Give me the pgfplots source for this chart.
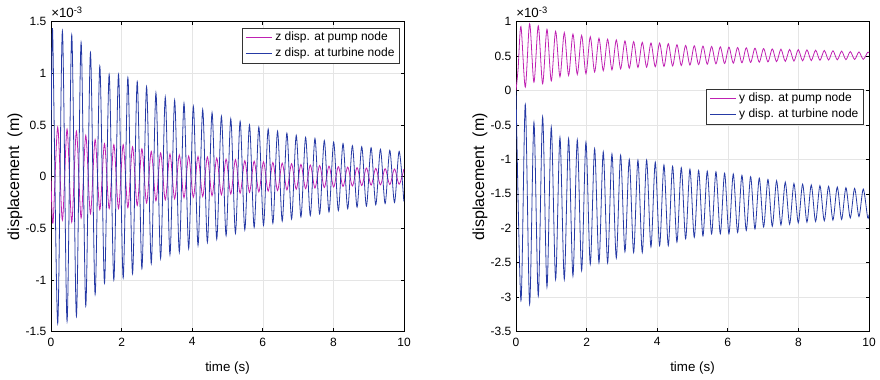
\documentclass[border=0pt]{standalone}
\usepackage{fontspec}
\setmainfont{Liberation Sans}
\usepackage{pgfplots}
\pgfplotsset{compat=1.18}
\definecolor{mag}{RGB}{191,33,178}
\definecolor{blu}{RGB}{38,58,165}
\pgfplotsset{
  mystyle/.style={
    scale only axis, width=264.75pt, height=232.5pt,
    xmin=0, xmax=10, xtick={0,2,4,6,8,10},
    grid=major, grid style={black!10, line width=0.4pt},
    axis line style={black, line width=0.5pt},
    tick style={black, line width=0.5pt},
    major tick length=2.5pt,
    /pgf/number format/assume math mode=true,
    ticklabel style={font=\fontsize{9}{10}\selectfont},
    xticklabel style={yshift=-1pt},
    xlabel={time (s)}, ylabel={displacement\ \ (m)},
    every axis x label/.style={at={(rel axis cs:0.5,0)}, anchor=center, yshift=-27pt, font=\fontsize{10}{12}\selectfont},
    every axis y label/.style={at={(axis description cs:-0.102,0.5)}, rotate=90, anchor=center, font=\fontsize{12}{14}\selectfont},
    scaled ticks=false,
    legend style={draw=black!80, line width=0.5pt, font=\fontsize{9}{10.5}\selectfont, inner xsep=2pt, inner ysep=1pt, cells={anchor=west}, fill=white},
    legend image code/.code={\draw[#1] (0cm,0cm) -- (0.68cm,0cm);},
    every axis plot/.append style={line width=0.6pt, smooth},
  }
}
\begin{document}
\begin{tikzpicture}
\path[use as bounding box] (0,0) rectangle (660pt,284.25pt);
\begin{axis}[mystyle, name=L, at={(38.25pt,35.5pt)}, anchor=south west,
  ymin=-1.5, ymax=1.5, ytick={-1.5,-1,-0.5,0,0.5,1,1.5},
  legend style={at={(rel axis cs:0.989,0.98)}, anchor=north east}]
\addlegendimage{draw=mag, line width=1.3pt}
\addlegendentry{z disp. at pump node}
\addlegendimage{draw=blu, line width=1.3pt}
\addlegendentry{z disp. at turbine node}
\addplot[mag, forget plot] coordinates {
(0,0) (0.0575,-0.45) (0.19,0.48) (0.3225,-0.42) (0.455,0.46) (0.5875,-0.44)
(0.72,0.44) (0.8525,-0.40) (0.985,0.40) (1.1175,-0.36) (1.25,0.36) (1.3825,-0.32)
(1.515,0.32) (1.6475,-0.31) (1.78,0.31) (1.9125,-0.31) (2.045,0.31) (2.1775,-0.30)
(2.31,0.29) (2.4425,-0.28) (2.575,0.27) (2.7075,-0.255) (2.84,0.245) (2.9725,-0.235)
(3.105,0.23) (3.2375,-0.225) (3.37,0.22) (3.5025,-0.215) (3.635,0.21) (3.7675,-0.205)
(3.90,0.20) (4.0325,-0.198) (4.165,0.195) (4.2975,-0.192) (4.43,0.19) (4.5625,-0.185)
(4.695,0.18) (4.8275,-0.175) (4.96,0.17) (5.0925,-0.168) (5.225,0.165) (5.3575,-0.16)
(5.49,0.155) (5.6225,-0.152) (5.755,0.15) (5.8875,-0.147) (6.02,0.144) (6.1525,-0.14)
(6.285,0.137) (6.4175,-0.134) (6.55,0.131) (6.6825,-0.128) (6.815,0.125) (6.9475,-0.122)
(7.08,0.119) (7.2125,-0.116) (7.345,0.113) (7.4775,-0.11) (7.61,0.108) (7.7425,-0.105)
(7.875,0.102) (8.0075,-0.10) (8.14,0.097) (8.2725,-0.095) (8.405,0.093) (8.5375,-0.09)
(8.67,0.088) (8.8025,-0.086) (8.935,0.084) (9.0675,-0.082) (9.20,0.08) (9.3325,-0.079)
(9.465,0.077) (9.5975,-0.076) (9.73,0.074) (9.8625,-0.073) (9.995,0.072)
};
\addplot[blu, forget plot] coordinates {
(0,0) (0.045,1.42) (0.19,-1.42)
(0.3225,1.41) (0.455,-1.40) (0.5875,1.37) (0.72,-1.35) (0.8525,1.30) (0.985,-1.25)
(1.1175,1.20) (1.25,-1.14) (1.3825,1.07) (1.515,-1.03) (1.6475,0.99) (1.78,-1.00)
(1.9125,0.99) (2.045,-0.98) (2.1775,0.96) (2.31,-0.94) (2.4425,0.92) (2.575,-0.89)
(2.7075,0.87) (2.84,-0.84) (2.9725,0.81) (3.105,-0.79) (3.2375,0.77) (3.37,-0.755)
(3.5025,0.74) (3.635,-0.73) (3.7675,0.71) (3.90,-0.695) (4.0325,0.68) (4.165,-0.665)
(4.2975,0.65) (4.43,-0.635) (4.5625,0.62) (4.695,-0.605) (4.8275,0.585) (4.96,-0.57)
(5.0925,0.56) (5.225,-0.548) (5.3575,0.535) (5.49,-0.515) (5.6225,0.50) (5.755,-0.49)
(5.8875,0.48) (6.02,-0.47) (6.1525,0.46) (6.285,-0.45) (6.4175,0.44) (6.55,-0.43)
(6.6825,0.42) (6.815,-0.41) (6.9475,0.40) (7.08,-0.39) (7.2125,0.38) (7.345,-0.375)
(7.4775,0.37) (7.61,-0.36) (7.7425,0.35) (7.875,-0.342) (8.0075,0.335) (8.14,-0.328)
(8.2725,0.32) (8.405,-0.31) (8.5375,0.30) (8.67,-0.295) (8.8025,0.29) (8.935,-0.285)
(9.0675,0.28) (9.20,-0.272) (9.3325,0.265) (9.465,-0.26) (9.5975,0.255) (9.73,-0.25)
(9.8625,0.245) (9.995,-0.24)
};
\end{axis}
\node[anchor=south west, inner sep=0pt, font=\fontsize{10}{11}\selectfont] at ([yshift=2.5pt]L.north west) {×10\textsuperscript{-3}};

\begin{axis}[mystyle, name=R, at={(387pt,35.5pt)}, anchor=south west,
  ymin=-3.5, ymax=1, ytick={-3.5,-3,-2.5,-2,-1.5,-1,-0.5,0,0.5,1},
  legend style={at={(rel axis cs:0.986,0.783)}, anchor=north east}]
\addlegendimage{draw=mag, line width=1.1pt}
\addlegendentry{y disp. at pump node}
\addlegendimage{draw=blu, line width=1.1pt}
\addlegendentry{y disp. at turbine node}
\addplot[mag, forget plot] coordinates {
(0,0) (0.06,0.32) (0.14,0.93) (0.263,0.05) (0.386,0.97) (0.508,0.12) (0.631,0.94)
(0.754,0.10) (0.877,0.89) (0.999,0.14) (1.122,0.86) (1.245,0.20) (1.368,0.84)
(1.490,0.22) (1.613,0.82) (1.736,0.235) (1.859,0.80) (1.981,0.245) (2.104,0.78)
(2.227,0.27) (2.350,0.76) (2.472,0.29) (2.595,0.745) (2.718,0.30) (2.841,0.735)
(2.963,0.315) (3.086,0.72) (3.209,0.325) (3.332,0.71) (3.454,0.335) (3.577,0.70)
(3.700,0.34) (3.823,0.69) (3.945,0.345) (4.068,0.69) (4.191,0.35) (4.314,0.68)
(4.436,0.358) (4.559,0.665) (4.682,0.364) (4.805,0.655) (4.927,0.37) (5.05,0.65)
(5.173,0.377) (5.296,0.645) (5.418,0.383) (5.541,0.64) (5.664,0.388) (5.787,0.635)
(5.909,0.393) (6.032,0.63) (6.155,0.398) (6.278,0.625) (6.400,0.403) (6.523,0.62)
(6.646,0.408) (6.769,0.615) (6.891,0.412) (7.014,0.61) (7.137,0.416) (7.260,0.605)
(7.382,0.42) (7.505,0.60) (7.628,0.424) (7.751,0.597) (7.873,0.428) (7.996,0.594)
(8.119,0.432) (8.242,0.59) (8.364,0.436) (8.487,0.586) (8.610,0.44) (8.733,0.582)
(8.855,0.443) (8.978,0.578) (9.101,0.446) (9.224,0.572) (9.346,0.449) (9.469,0.566)
(9.592,0.452) (9.715,0.56) (9.837,0.454) (9.96,0.555) (10,0.545)
};
\addplot[blu, forget plot] coordinates {
(0,0) (0.14,-3.05) (0.263,-0.20) (0.386,-3.10) (0.508,-0.46)
(0.631,-2.98) (0.754,-0.38) (0.877,-2.85) (0.999,-0.53) (1.122,-2.74) (1.245,-0.68)
(1.368,-2.74) (1.490,-0.70) (1.613,-2.69) (1.736,-0.715) (1.859,-2.61) (1.981,-0.75)
(2.104,-2.52) (2.227,-0.845) (2.350,-2.50) (2.472,-0.89) (2.595,-2.50) (2.718,-0.92)
(2.841,-2.43) (2.963,-0.94) (3.086,-2.34) (3.209,-1.0) (3.332,-2.35) (3.454,-1.01)
(3.577,-2.35) (3.700,-1.01) (3.823,-2.27) (3.945,-1.04) (4.068,-2.25) (4.191,-1.08)
(4.314,-2.25) (4.436,-1.10) (4.559,-2.20) (4.682,-1.12) (4.805,-2.15) (4.927,-1.14)
(5.05,-2.13) (5.173,-1.16) (5.296,-2.11) (5.418,-1.17) (5.541,-2.08) (5.664,-1.18)
(5.787,-2.08) (5.909,-1.20) (6.032,-2.08) (6.155,-1.21) (6.278,-2.06) (6.400,-1.23)
(6.523,-2.03) (6.646,-1.25) (6.769,-2.01) (6.891,-1.27) (7.014,-1.98) (7.137,-1.29)
(7.260,-1.97) (7.382,-1.31) (7.505,-1.95) (7.628,-1.33) (7.751,-1.94) (7.873,-1.35)
(7.996,-1.92) (8.119,-1.36) (8.242,-1.91) (8.364,-1.37) (8.487,-1.90) (8.610,-1.38)
(8.733,-1.89) (8.855,-1.39) (8.978,-1.88) (9.101,-1.40) (9.224,-1.87) (9.346,-1.41)
(9.469,-1.85) (9.592,-1.42) (9.715,-1.83) (9.837,-1.43) (9.96,-1.84) (10,-1.80)
};
\end{axis}
\node[anchor=south west, inner sep=0pt, font=\fontsize{10}{11}\selectfont] at ([yshift=2.5pt]R.north west) {×10\textsuperscript{-3}};
\end{tikzpicture}
\end{document}
